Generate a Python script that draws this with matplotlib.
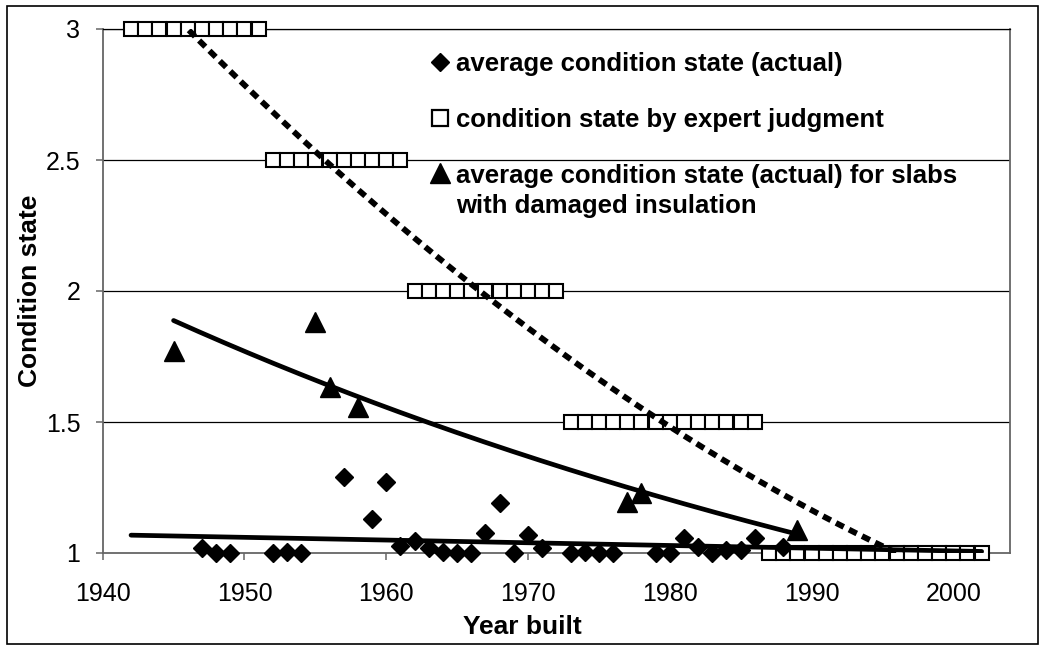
import numpy as np
import matplotlib
matplotlib.use("Agg")
import matplotlib.pyplot as plt
from matplotlib.lines import Line2D
from matplotlib.patches import Rectangle

plt.rcParams['font.family'] = ['Liberation Sans', 'DejaVu Sans']

# ---------------- data ----------------
diamond_years = [1947, 1948, 1949, 1952, 1953, 1954, 1957, 1959, 1960, 1961,
                 1962, 1963, 1964, 1965, 1966, 1967, 1968, 1969, 1970, 1971,
                 1973, 1974, 1975, 1976, 1979, 1980, 1981, 1982, 1983, 1984,
                 1985, 1986, 1988]
diamond_vals = [1.018, 1.0, 1.0, 1.0, 1.005, 1.0, 1.29, 1.13, 1.27, 1.025,
                1.046, 1.02, 1.005, 1.0, 1.0, 1.075, 1.19, 1.0, 1.069, 1.02,
                1.0, 1.005, 1.0, 1.0, 1.0, 1.0, 1.056, 1.024, 1.0, 1.011,
                1.011, 1.056, 1.024]

expert_years = [1942, 1943, 1944, 1945, 1946, 1947, 1948, 1949, 1950, 1951,
                1952, 1953, 1954, 1955, 1956, 1957, 1958, 1959, 1960, 1961,
                1962, 1963, 1964, 1965, 1966, 1967, 1968, 1969, 1970, 1971, 1972,
                1973, 1974, 1975, 1976, 1977, 1978, 1979, 1980, 1981, 1982, 1983,
                1984, 1985, 1986,
                1987, 1988, 1989, 1990, 1991, 1992, 1993, 1994, 1995, 1996, 1997,
                1998, 1999, 2000, 2001, 2002]
expert_vals = [3, 3, 3, 3, 3, 3, 3, 3, 3, 3,
               2.5, 2.5, 2.5, 2.5, 2.5, 2.5, 2.5, 2.5, 2.5, 2.5,
               2, 2, 2, 2, 2, 2, 2, 2, 2, 2, 2,
               1.5, 1.5, 1.5, 1.5, 1.5, 1.5, 1.5, 1.5, 1.5, 1.5, 1.5,
               1.5, 1.5, 1.5,
               1, 1, 1, 1, 1, 1, 1, 1, 1, 1, 1,
               1, 1, 1, 1, 1]

triangle_years = [1945, 1955, 1956, 1958, 1977, 1978, 1989]
triangle_vals = [1.77, 1.88, 1.635, 1.558, 1.196, 1.23, 1.088]

x_ticks = [1940, 1950, 1960, 1970, 1980, 1990, 2000]
y_ticks = [1, 1.5, 2, 2.5, 3]
y_tick_labels = ["1", "1.5", "2", "2.5", "3"]

legend_labels = ["average condition state (actual)",
                 "condition state by expert judgment",
                 "average condition state (actual) for slabs",
                 "with damaged insulation"]

# ---------------- figure ----------------
W, H = 1045, 650
fig = plt.figure(figsize=(W / 100, H / 100), dpi=100)
fig.patch.set_facecolor("white")

def fx(px):
    return px / W

def fy(py):
    return 1 - py / H

ax_l, ax_r, ax_t, ax_b = 102.7, 1010, 29, 553
ax = fig.add_axes([fx(ax_l), fy(ax_b), fx(ax_r) - fx(ax_l), fy(ax_t) - fy(ax_b)])
ax.set_xlim(1940, 2004)
ax.set_ylim(1, 3)

# gridlines
for yv in y_ticks[1:]:
    ax.axhline(yv, color="black", lw=0.9, zorder=1)

# trendlines (fitted from the data)
ey = np.array(expert_years, float)
ev = np.array(expert_vals, float)
pc = np.polyfit(ey - 1970, ev, 2)
xs = np.linspace(min(expert_years), max(expert_years), 400)
ax.plot(xs, np.polyval(pc, xs - 1970), color="black", lw=4.2,
        dashes=(1.5, 1.0), zorder=6, dash_capstyle="butt")

ty = np.array(triangle_years, float)
tv = np.array(triangle_vals, float)
b, a = np.polyfit(ty - 1970, np.log(tv), 1)
xt = np.linspace(min(triangle_years), max(triangle_years), 200)
ax.plot(xt, np.exp(a + b * (xt - 1970)), color="black", lw=3.4, zorder=6,
        solid_capstyle="round")

dy = np.array(diamond_years, float)
dv = np.array(diamond_vals, float)
m, c = np.polyfit(dy - 1970, dv, 1)
xd = np.linspace(min(expert_years), max(expert_years), 200)
ax.plot(xd, m * (xd - 1970) + c, color="black", lw=3.4, zorder=6,
        solid_capstyle="round")

# markers
ax.plot(expert_years, expert_vals, linestyle="none", marker="s", markersize=10.2,
        markerfacecolor="white", markeredgecolor="black", markeredgewidth=1.5,
        zorder=4, clip_on=False)
ax.plot(diamond_years, diamond_vals, linestyle="none", marker="D", markersize=9.2,
        color="black", zorder=5, clip_on=False)
ax.plot(triangle_years, triangle_vals, linestyle="none", marker="^", markersize=15,
        color="black", zorder=5, clip_on=False)

# axes styling
spine_col = "#666666"
for s in ["left", "bottom", "right"]:
    ax.spines[s].set_color(spine_col)
    ax.spines[s].set_linewidth(1.3)
ax.spines["top"].set_color("black")
ax.spines["top"].set_linewidth(0.9)
ax.set_xticks(x_ticks)
ax.set_xticklabels([str(v) for v in x_ticks])
ax.set_yticks(y_ticks)
ax.set_yticklabels(y_tick_labels)
ax.tick_params(axis="both", direction="out", length=5, width=1.1, color=spine_col,
               labelsize=18, labelcolor="black")
ax.tick_params(axis="x", pad=16)
ax.tick_params(axis="y", pad=11)

# axis labels
fig.text(fx(522), fy(627), "Year built", ha="center", va="center",
         fontsize=19, fontweight="bold")
fig.text(fx(30), fy(291), "Condition state", ha="center", va="center",
         rotation=90, fontsize=19, fontweight="bold")

# legend (manual)
mk = dict(linestyle="none", transform=fig.transFigure)
fig.add_artist(Line2D([fx(440)], [fy(62)], marker="D", markersize=9.5,
                      color="black", **mk))
fig.add_artist(Line2D([fx(440)], [fy(118)], marker="s", markersize=11,
                      markerfacecolor="white", markeredgecolor="black",
                      markeredgewidth=1.6, **mk))
fig.add_artist(Line2D([fx(440)], [fy(173)], marker="^", markersize=15,
                      color="black", **mk))
for lbl, py in zip(legend_labels, [62, 118, 173, 203]):
    fig.text(fx(456), fy(py), lbl, ha="left", va="center_baseline",
             fontsize=18.5, fontweight="bold")

# outer border
fig.add_artist(Rectangle((fx(7), fy(644)), fx(1038) - fx(7), fy(6) - fy(644),
                         transform=fig.transFigure, fill=False,
                         edgecolor="black", lw=1.2))

fig.savefig("out.png", dpi=100)
